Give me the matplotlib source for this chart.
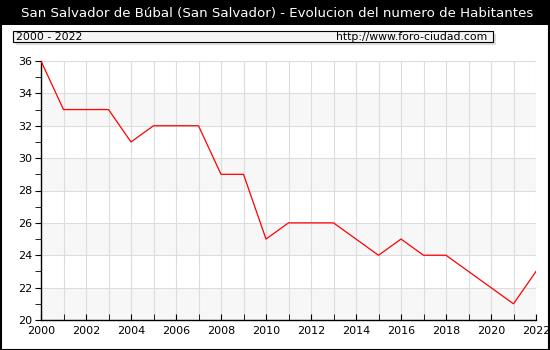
import matplotlib
matplotlib.use("Agg")
import matplotlib.pyplot as plt
from matplotlib.patches import Rectangle

years = list(range(2000, 2023))
population = [36, 33, 33, 33, 31, 32, 32, 32, 29, 29, 25, 26, 26, 26, 25, 24, 25, 24, 24, 23, 22, 21, 23]
title = "San Salvador de Búbal (San Salvador) - Evolucion del numero de Habitantes"
period = "2000 - 2022"
site = "http://www.foro-ciudad.com"
x_ticks = list(range(2000, 2023, 2))
y_ticks = list(range(20, 37, 2))

W, H = 550, 350
fig = plt.figure(figsize=(W / 100, H / 100), dpi=100)
fig.patch.set_facecolor("white")

# title band
fig.patches.append(Rectangle((0, 1 - 25 / H), 1, 25 / H, transform=fig.transFigure,
                             facecolor="black", edgecolor="none", zorder=0))
fig.text(0.5 + 2 / W, 1 - 13 / H, title, color="white", ha="center", va="center", fontsize=9.6)

# header box with shadow
bx0, bx1, by0, by1 = 13, 493, 31, 42
fig.patches.append(Rectangle(((bx0 + 3) / W, 1 - (by1 + 3) / H), (bx1 - bx0) / W, (by1 - by0) / H,
                             transform=fig.transFigure, facecolor="#dddddd", edgecolor="none", zorder=1))
fig.patches.append(Rectangle((bx0 / W, 1 - by1 / H), (bx1 - bx0) / W, (by1 - by0) / H,
                             transform=fig.transFigure, facecolor="#f4f4f4", edgecolor="black",
                             linewidth=0.8, zorder=2))
fig.text((bx0 + 3) / W, 1 - (by0 + by1) / 2 / H, period, ha="left", va="center", fontsize=7.8, zorder=3)
fig.text((bx1 - 6) / W, 1 - (by0 + by1) / 2 / H, site, ha="right", va="center", fontsize=7.8, zorder=3)

# outer border
fig.patches.append(Rectangle((0.5 / W, 0.5 / H), (W - 1.5) / W, (H - 1.5) / H, transform=fig.transFigure,
                             facecolor="none", edgecolor="black", linewidth=1.5, zorder=5))

ax_l, ax_r, ax_t, ax_b = 41, 536, 61, 320
ax = fig.add_axes([ax_l / W, 1 - ax_b / H, (ax_r - ax_l) / W, (ax_b - ax_t) / H])
ax.set_xlim(2000, 2022)
ax.set_ylim(20, 36)
for lo in range(20, 36, 4):
    ax.axhspan(lo, lo + 2, facecolor="#f7f7f7", edgecolor="none", zorder=0)
ax.set_xticks(x_ticks)
ax.set_xticks(years, minor=True)
ax.set_yticks(y_ticks)
ax.set_yticks(range(20, 37), minor=True)
ax.grid(True, which="minor", axis="x", color="#dddddd", linewidth=0.8, zorder=1)
ax.grid(True, which="major", axis="x", color="#dddddd", linewidth=0.8, zorder=1)
ax.grid(True, which="major", axis="y", color="#dddddd", linewidth=0.8, zorder=1)
ax.plot(years, population, color="red", linewidth=0.9, zorder=3)
for s in ["top", "right"]:
    ax.spines[s].set_visible(False)
for s in ["left", "bottom"]:
    ax.spines[s].set_linewidth(1.0)
ax.tick_params(axis="x", which="both", direction="in", length=4, labelsize=8, pad=4)
ax.tick_params(axis="y", which="both", direction="out", length=4, labelsize=8, pad=2)
ax.set_axisbelow(True)

fig.savefig("out.png", dpi=100, facecolor="white")
